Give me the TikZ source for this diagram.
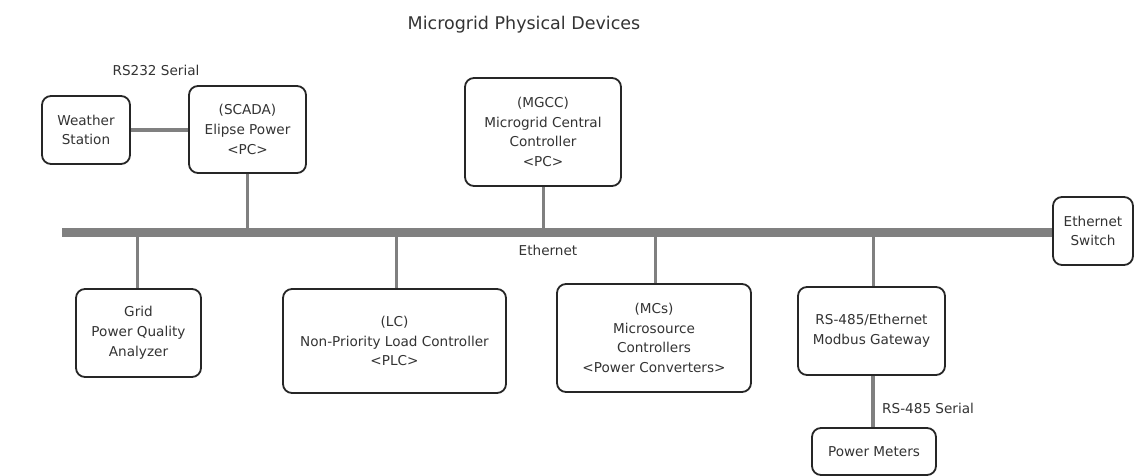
\documentclass[tikz,border=0pt]{standalone}
\usepackage{fontspec}
\setmainfont{DejaVu Sans}
\begin{document}
\begin{tikzpicture}[x=1pt,y=-1pt,
  device/.style={draw=black!85, line width=1.8pt, rounded corners=9pt, fill=white,
    align=center, font=\fontsize{13.6}{19.8}\selectfont, text=black!80, inner sep=0pt},
  bus/.style={draw=black!50, line width=8.5pt},
  drop/.style={draw=black!50, line width=3pt},
  serial/.style={draw=black!50, line width=4pt},
  lbl/.style={font=\fontsize{13.6}{15}\selectfont, text=black!80, inner sep=0pt}]
\useasboundingbox (0,0) rectangle (1135,476);

\node[font=\fontsize{17.5}{20}\selectfont, text=black!80] (title) at (524,25) {Microgrid Physical Devices};

% devices above the bus
\node[device, minimum width=88pt, minimum height=68pt] (weather) at (86,130) {Weather\\Station};
\node[device, minimum width=117pt, minimum height=87pt] (scada) at (247.5,129.5) {(SCADA)\\Elipse Power\\<PC>};
\node[device, minimum width=156pt, minimum height=108pt] (mgcc) at (543,132) {(MGCC)\\Microgrid Central\\Controller\\<PC>};
\node[device, minimum width=80pt, minimum height=68pt] (switch) at (1093,231) {Ethernet\\Switch};

% devices below the bus
\node[device, minimum width=125pt, minimum height=88pt] (pqa) at (138.5,333) {Grid\\Power Quality\\Analyzer};
\node[device, minimum width=223pt, minimum height=104pt] (lc) at (394.5,341) {(LC)\\Non-Priority Load Controller\\<PLC>};
\node[device, minimum width=194pt, minimum height=108pt] (mcs) at (654,338) {(MCs)\\Microsource\\Controllers\\<Power Converters>};
\node[device, minimum width=147pt, minimum height=88pt] (gateway) at (871.5,331) {RS-485/Ethernet\\Modbus Gateway};
\node[device, minimum width=124pt, minimum height=47pt] (meters) at (874,451.5) {Power Meters};

% Ethernet backbone
\coordinate (busL) at (62,232.5);
\draw[bus] (busL) -- (switch.west |- busL);
\node[lbl] (ethlbl) at (548,250) {Ethernet};

% drops to the backbone
\draw[drop] (scada.south) -- (scada.south |- busL);
\draw[drop] (mgcc.south) -- (mgcc.south |- busL);
\draw[drop] (pqa.north -| 137,0) -- (137,232.5);
\draw[drop] (lc.north -| 396,0) -- (396,232.5);
\draw[drop] (mcs.north -| 655,0) -- (655,232.5);
\draw[drop] (gateway.north -| 873,0) -- (873,232.5);

% serial links
\draw[serial] (weather.east) -- (weather.east -| scada.west);
\node[lbl] (rs232) at (156,70) {RS232 Serial};
\draw[serial] (gateway.south -| 873,0) -- (meters.north -| 873,0);
\node[lbl, anchor=west] (rs485) at (882,408) {RS-485 Serial};
\end{tikzpicture}
\end{document}
